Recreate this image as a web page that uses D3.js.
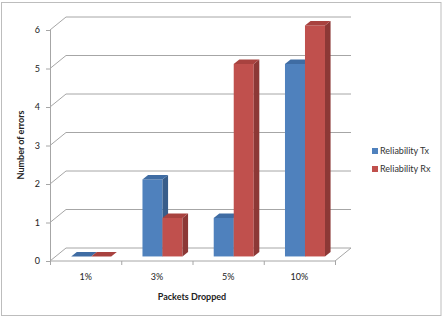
<!DOCTYPE html>
<html>
<head>
<meta charset="utf-8">
<script src="https://cdn.jsdelivr.net/npm/d3@7"></script>
<style>
  body { margin: 0; background: #fff; }
  text { font-family: Lato, "Open Sans", sans-serif; fill: #222; }
</style>
</head>
<body>
<div id="chart"></div>
<script>

var categories = ["1%", "3%", "5%", "10%"];
var seriesNames = ["Reliability Tx", "Reliability Rx"];
var txValues = [0, 2, 1, 5];
var rxValues = [0, 1, 5, 6];
var yTicks = [0, 1, 2, 3, 4, 5, 6];

var width = 443;
var height = 317;

var svg = d3.select("#chart")
  .append("svg")
    .attr("width", width)
    .attr("height", height);

// outer border
svg.append("rect")
  .attr("x", 1.5).attr("y", 2.5)
  .attr("width", 439.5).attr("height", 313)
  .attr("fill", "none")
  .attr("stroke", "#bdbdbd");

// depth offset of the 3d box
var dx = 16, dy = -13;

var x = d3.scaleBand()
  .domain(categories)
  .range([50, 335]);

var y = d3.scaleLinear()
  .domain([0, 6])
  .range([261, 30]);

var colors = {
  front: ["#4f81bd", "#c0504d"],
  side:  ["#385d8a", "#8c3836"],
  top:   ["#3f6ca3", "#a8423f"]
};

// walls and gridlines
var grid = svg.append("g")
  .attr("stroke", "#a6a6a6")
  .attr("fill", "none");

yTicks.forEach(function(t) {
  grid.append("path")
    .attr("d", "M50," + y(t) + "L" + (50 + dx) + "," + (y(t) + dy) +
               "L" + (335 + dx) + "," + (y(t) + dy));
});

// floor front and right edge
grid.append("path")
  .attr("d", "M50," + y(0) + "L335," + y(0) + "L" + (335 + dx) + "," + (y(0) + dy));

// y axis line
grid.append("line")
  .attr("x1", 50.5).attr("x2", 50.5)
  .attr("y1", y(6)).attr("y2", y(0) + 4);

// y ticks
svg.append("g").selectAll("line")
  .data(yTicks)
  .join("line")
    .attr("x1", 46).attr("x2", 50)
    .attr("y1", function(d) { return y(d) + 0.5; })
    .attr("y2", function(d) { return y(d) + 0.5; })
    .attr("stroke", "#a6a6a6");

svg.append("g").selectAll("text")
  .data(yTicks)
  .join("text")
    .attr("x", 40)
    .attr("y", function(d) { return y(d); })
    .attr("dy", "0.35em")
    .attr("text-anchor", "end")
    .style("font-size", "9px")
    .text(function(d) { return d; });

// category ticks
var catEdges = categories.map(function(c) { return x(c); }).concat([x.range()[1]]);
svg.append("g").selectAll("line")
  .data(catEdges)
  .join("line")
    .attr("x1", function(d) { return d + 0.5; })
    .attr("x2", function(d) { return d + 0.5; })
    .attr("y1", y(0)).attr("y2", y(0) + 4)
    .attr("stroke", "#a6a6a6");

svg.append("g").selectAll("text")
  .data(categories)
  .join("text")
    .attr("x", function(d) { return x(d) + x.bandwidth() / 2; })
    .attr("y", 280)
    .attr("text-anchor", "middle")
    .style("font-size", "9px")
    .text(function(d) { return d; });

// 3d bars
var d0 = 0.35, d1 = 0.7;
var barW = 20;

function bar(g, x0, v, i) {
  var fx = x0 + d0 * dx, fy = d0 * dy;
  var bx = (d1 - d0) * dx, by = (d1 - d0) * dy;
  var yt = y(v) + fy, yb = y(0) + fy;
  if (v > 0) {
    g.append("rect")
      .attr("x", fx).attr("y", yt)
      .attr("width", barW).attr("height", yb - yt)
      .attr("fill", colors.front[i]);
    g.append("path")
      .attr("d", "M" + (fx + barW) + "," + yt + "L" + (fx + barW + bx) + "," + (yt + by) +
                 "L" + (fx + barW + bx) + "," + (yb + by) + "L" + (fx + barW) + "," + yb + "Z")
      .attr("fill", colors.side[i]);
  }
  g.append("path")
    .attr("d", "M" + fx + "," + yt + "L" + (fx + barW) + "," + yt +
               "L" + (fx + barW + bx) + "," + (yt + by) + "L" + (fx + bx) + "," + (yt + by) + "Z")
    .attr("fill", colors.top[i]);
}

var bars = svg.append("g");
categories.forEach(function(c, k) {
  var cx = x(c) + x.bandwidth() / 2;
  bar(bars, cx - barW, txValues[k], 0);
  bar(bars, cx, rxValues[k], 1);
});

// axis titles
svg.append("text")
  .attr("transform", "translate(24,145) rotate(-90)")
  .attr("text-anchor", "middle")
  .style("font-size", "9px")
  .style("font-weight", "bold")
  .text("Number of errors");

svg.append("text")
  .attr("x", 192)
  .attr("y", 300)
  .attr("text-anchor", "middle")
  .style("font-size", "9px")
  .style("font-weight", "bold")
  .text("Packets Dropped");

// legend
var legend = svg.append("g").selectAll("g")
  .data(seriesNames)
  .join("g")
    .attr("transform", function(d, i) { return "translate(372," + (151 + i * 18) + ")"; });

legend.append("rect")
  .attr("x", 0).attr("y", -3)
  .attr("width", 6).attr("height", 6)
  .attr("fill", function(d, i) { return colors.front[i]; });

legend.append("text")
  .attr("x", 8)
  .attr("dy", "0.35em")
  .style("font-size", "9px")
  .style("fill", "#333")
  .text(function(d) { return d; });

</script>
</body>
</html>
